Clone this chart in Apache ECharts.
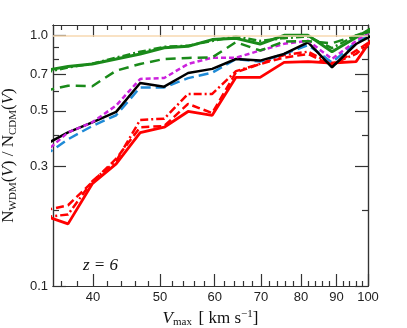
<!DOCTYPE html>
<html>
<head>
<meta charset="utf-8">
<script src="https://cdn.jsdelivr.net/npm/echarts@6/dist/echarts.min.js"></script>
<style>
  html, body { margin: 0; background: #fff; }
  #chart { width: 407px; height: 328px; }
</style>
</head>
<body>
<div id="chart"></div>
<script>
// bin centres (km/s), log spaced
const vmax = [34.0, 36.8, 39.9, 43.2, 46.8, 50.7, 54.9, 59.5, 64.4, 69.8, 75.6, 81.9, 88.7, 96.1, 104.1];

const greenSolid   = [0.722, 0.752, 0.769, 0.805, 0.843, 0.893, 0.904, 0.962, 0.973, 0.924, 1.0, 1.0, 0.86, 0.98, 1.12];
const greenDashDot = [0.71, 0.745, 0.77, 0.815, 0.86, 0.9, 0.91, 0.95, 0.99, 0.95, 0.975, 0.99, 0.89, 1.0, 1.08];
const greenDashed  = [0.60, 0.63, 0.627, 0.723, 0.769, 0.805, 0.813, 0.817, 0.94, 0.87, 0.945, 0.948, 0.93, 0.997, 1.06];
const magenta      = [0.34, 0.41, 0.45, 0.525, 0.67, 0.676, 0.769, 0.815, 0.815, 0.87, 0.925, 0.952, 0.805, 0.95, 1.1];
const black        = [0.365, 0.41, 0.45, 0.495, 0.646, 0.624, 0.708, 0.735, 0.805, 0.793, 0.843, 0.938, 0.746, 0.924, 1.04];
const blue         = [0.331, 0.385, 0.435, 0.48, 0.62, 0.62, 0.675, 0.71, 0.805, 0.786, 0.843, 0.915, 0.78, 0.938, 1.05];
const redSolid     = [0.191, 0.177, 0.256, 0.307, 0.409, 0.43, 0.497, 0.48, 0.68, 0.68, 0.78, 0.786, 0.776, 0.786, 1.08];
const redDashed    = [0.20, 0.21, 0.26, 0.322, 0.43, 0.435, 0.533, 0.49, 0.712, 0.769, 0.815, 0.843, 0.757, 0.869, 1.0];
const redDashDot   = [0.188, 0.193, 0.262, 0.315, 0.46, 0.465, 0.584, 0.584, 0.72, 0.77, 0.835, 0.861, 0.769, 0.843, 1.02];

const xMajor = [40, 50, 60, 70, 80, 90, 100];
const xMinor = [36, 38, 42, 44, 46, 48, 52, 54, 56, 58, 62, 64, 66, 68, 72, 74, 76, 78, 82, 84, 86, 88, 92, 94, 96, 98];
const yMajor = [0.1, 0.3, 0.5, 0.7, 1.0];
const yMinor = [0.2, 0.4, 0.6, 0.8, 0.9];

const axisColor = '#333';
const labelFont = { color: '#222', fontSize: 13, fontFamily: 'Liberation Sans, Arial, sans-serif' };
const serif = 'Liberation Serif, serif';

function xAxis(pos, ticks, len, withLabels) {
  return {
    type: 'log', logBase: 10, min: 35, max: 100, position: pos,
    axisLine: { show: true, onZero: false, lineStyle: { color: axisColor, width: 1.2 } },
    axisTick: { show: true, inside: true, length: len, customValues: ticks, lineStyle: { color: axisColor, width: 1.2 } },
    axisLabel: withLabels
      ? Object.assign({ show: true, margin: 5, customValues: ticks, formatter: v => String(Math.round(v)) }, labelFont)
      : { show: false },
    splitLine: { show: false }
  };
}

function yAxis(pos, ticks, len, withLabels) {
  return {
    type: 'log', logBase: 10, min: 0.1, max: 1.1, position: pos,
    axisLine: { show: true, onZero: false, lineStyle: { color: axisColor, width: 1.2 } },
    axisTick: { show: true, inside: true, length: len, customValues: ticks, lineStyle: { color: axisColor, width: 1.2 } },
    axisLabel: withLabels
      ? Object.assign({ show: true, margin: 5, customValues: ticks, formatter: v => v.toFixed(1) }, labelFont)
      : { show: false },
    splitLine: { show: false }
  };
}

function line(ys, color, type, width) {
  return {
    type: 'line',
    data: vmax.map((v, i) => [v, ys[i]]),
    symbol: 'none',
    clip: true,
    lineStyle: { color: color, type: type, width: width || 2.5 },
    animation: false,
    silent: true
  };
}

const xAxes = [
  xAxis('bottom', xMajor, 12, true),
  xAxis('bottom', xMinor, 5, false),
  xAxis('top', xMajor, 12, false),
  xAxis('top', xMinor, 5, false)
];
xAxes[0].name = '{it|V}{sub|max}  {rm|[ km s}{sup|−1}{rm|]}';
xAxes[0].nameLocation = 'middle';
xAxes[0].nameGap = 22;
xAxes[0].nameTextStyle = {
  color: '#111',
  rich: {
    it: { fontFamily: serif, fontStyle: 'italic', fontSize: 17, color: '#111' },
    rm: { fontFamily: serif, fontSize: 17, color: '#111' },
    sub: { fontFamily: serif, fontSize: 11, color: '#111', verticalAlign: 'bottom', padding: [8, 0, 0, 0] },
    sup: { fontFamily: serif, fontSize: 11, color: '#111', verticalAlign: 'top', padding: [0, 0, 8, 0] }
  }
};

const yAxes = [
  yAxis('left', yMajor, 13, true),
  yAxis('left', yMinor, 6, false),
  yAxis('right', yMajor, 13, false),
  yAxis('right', yMinor, 6, false)
];
yAxes[0].name = '{rm|N}{sub|WDM}{rm|(}{it|V}{rm|) / N}{sub|CDM}{rm|(}{it|V}{rm|)}';
yAxes[0].nameLocation = 'middle';
yAxes[0].nameGap = 27;
yAxes[0].nameTextStyle = {
  color: '#111',
  rich: {
    it: { fontFamily: serif, fontStyle: 'italic', fontSize: 17, color: '#111' },
    rm: { fontFamily: serif, fontSize: 17, color: '#111' },
    sub: { fontFamily: serif, fontSize: 11, color: '#111', verticalAlign: 'bottom', padding: [9, 0, 0, 0] }
  }
};

const unity = line(vmax.map(() => null), '#000', 'solid');
unity.markLine = {
  symbol: 'none', silent: true, label: { show: false },
  lineStyle: { color: '#f7d9b0', width: 1.5, type: 'solid' },
  data: [{ yAxis: 1 }]
};

const chart = echarts.init(document.getElementById('chart'));
chart.setOption({
  animation: false,
  grid: { left: 53, right: 39, top: 25, bottom: 42, outerBoundsMode: 'none', containLabel: false },
  xAxis: xAxes,
  yAxis: yAxes,
  graphic: [{
    type: 'text', left: 83, top: 257,
    style: { text: 'z = 6', font: 'italic 17px "Liberation Serif", serif', fill: '#111' }
  }],
  series: [
    unity,
    line(redSolid, '#ff0000', 'solid', 2.8),
    line(redDashed, '#ff0000', [8, 4]),
    line(redDashDot, '#ff0000', [8, 3, 2, 3]),
    line(blue, '#1f8ad6', [10, 5]),
    line(black, '#000000', 'solid'),
    line(magenta, '#cc22dd', [5, 3]),
    line(greenDashed, '#1a8a1a', [10, 6]),
    line(greenDashDot, '#1a8a1a', [8, 3, 2, 3]),
    line(greenSolid, '#1a8a1a', 'solid', 3)
  ]
});
</script>
</body>
</html>
